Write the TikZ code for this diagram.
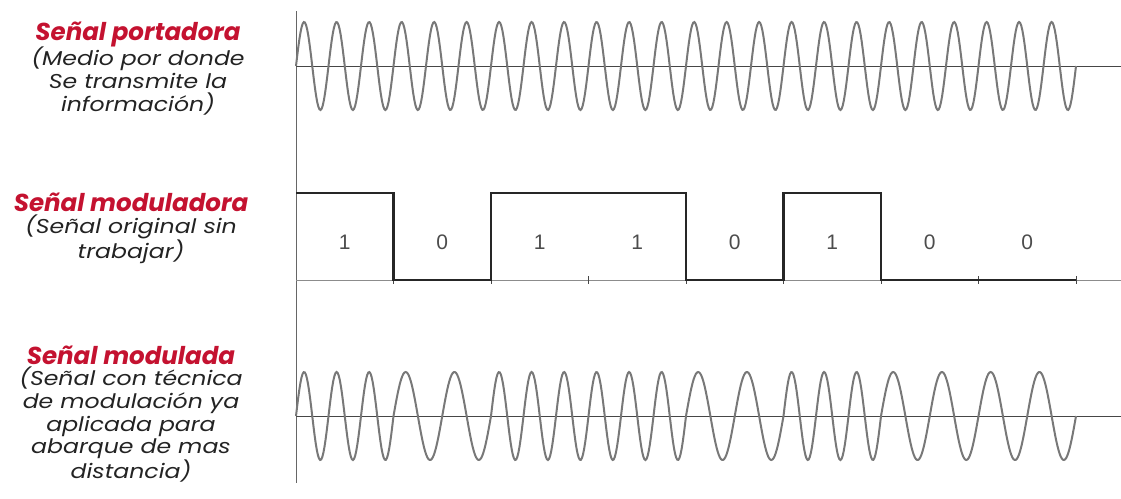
\documentclass[tikz,border=0pt]{standalone}
\usepackage{fontspec}
\setmainfont{Poppins}
\newfontfamily\descfont[FakeStretch=1.18]{Poppins}
\newfontfamily\digitfont{Liberation Sans}
\usetikzlibrary{positioning}
\definecolor{titlered}{RGB}{196,18,48}
\definecolor{textgray}{RGB}{35,35,35}
\definecolor{wavegray}{RGB}{120,120,120}
\definecolor{axisgray}{RGB}{70,70,70}

\begin{document}
\begin{tikzpicture}[x=1pt,y=-1pt,
    every node/.style={inner sep=0pt, align=center},
    title/.style={font=\fontsize{24.5}{27}\selectfont\bfseries\itshape, text=titlered},
    desc/.style={font=\descfont\fontsize{20}{22.8}\selectfont\itshape, text=textgray},
    bitlabel/.style={font=\digitfont\fontsize{21}{24}\selectfont, text=black!70},
    wave/.style={draw=wavegray, line width=2pt},
    axis/.style={draw=axisgray, line width=0.9pt},
    bits/.style={draw=black!85, line width=2.6pt, line join=miter}]
    \useasboundingbox (0,0) rectangle (1121,498);

    % text on the left
    \node[title] (tport) at (138,34) {Señal portadora};
    \node[desc, below=0pt of tport] (dport) {(Medio por donde\\Se transmite la\\información)};
    \node[title] (tmodr) at (131,202) {Señal moduladora};
    \node[desc, below=3pt of tmodr] (dmodr) {(Señal original sin\\trabajar)};
    \node[title] (tmodd) at (131,355) {Señal modulada};
    \node[desc, below=2pt of tmodd] (dmodd) {(Señal con técnica\\de modulación ya\\aplicada para\\abarque de mas\\distancia)};

    % axes
    \draw[axis, draw=black!60] (296,11) -- (296,483);
    \draw[axis] (296,66) -- (1121,66);
    \draw[axis, draw=black!45, line width=0.7pt] (296,280) -- (1121,280);
    \draw[axis] (296,416) -- (1121,416);
    \foreach \i in {1,...,8}
        \draw[axis] ({296+\i*97.5},276) -- ({296+\i*97.5},284);

    % portadora
    \draw[wave] plot[domain=0:780, samples=700] ({296+\x}, {66-44*sin(\x/32.5*360)});

    % moduladora
    \draw[bits] (296,193) -- (393.5,193) -- (393.5,280) -- (491,280) -- (491,193)
        -- (686,193) -- (686,280) -- (783.5,280) -- (783.5,193) -- (881,193)
        -- (881,280) -- (1076,280);
    \foreach \b [count=\i from 0] in {1,0,1,1,0,1,0,0}
        \node[bitlabel] (bit\i) at ({344.75+\i*97.5},242) {\b};

    % modulada
    \foreach \b [count=\i from 0] in {1,0,1,1,0,1,0,0} {
        \pgfmathsetmacro\nc{\b==1 ? 3 : 2}
        \draw[wave] plot[domain=0:97.5, samples=90] ({296+\i*97.5+\x}, {416-44*sin(\x/97.5*\nc*360)});
    }
\end{tikzpicture}
\end{document}
